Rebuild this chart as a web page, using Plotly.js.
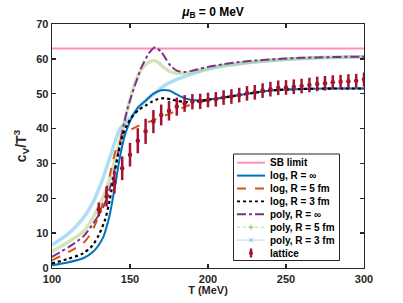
<!DOCTYPE html>
<html>
<head>
<meta charset="utf-8">
<script src="https://cdn.plot.ly/plotly-3.0.1.min.js"></script>
<style>html,body{margin:0;padding:0;background:#fff;}#chart{width:403px;height:303px;}</style>
</head>
<body>
<div id="chart"></div>
<script>
// SB limit
const sbT = [100, 300];
const sbV = [63.0, 63.0];

// log, R = inf
const logInfT = [100,110,120,126,130,133,135,137,139,141,143,145,147,149,151,155,160,165,170,175,180,185,190,195,200,210,220,230,240,250,260,270,280,290,300];
const logInfV = [0.8,1.6,2.8,4.5,6.6,9.0,11.8,15.2,20.0,25.0,30.5,35.0,38.5,41.0,43.0,46.0,48.0,50.0,51.0,50.9,49.8,48.7,48.2,48.1,48.3,48.9,49.6,50.3,50.9,51.2,51.35,51.45,51.5,51.5,51.5];

// log, R = 5 fm
const log5T = [100,111,120,125,130,135,138,141,145,150,155,160,165,170,175,180,185,190,195,200,205,210,220,230,240,250,260,270,280,290,300];
const log5V = [2.2,4.7,7.1,10.0,15.0,22.4,28.5,34.0,37.4,39.5,40.7,41.6,42.4,43.3,44.2,45.2,46.2,47.0,47.6,48.1,48.5,48.9,49.6,50.3,50.9,51.2,51.35,51.45,51.5,51.5,51.5];

// log, R = 3 fm
const log3T = [100,110,120,126,130,134,137,140,142.5,145,148,152,156,160,164,168,172,176,180,185,190,195,200,210,220,230,240,250,260,270,280,290,300];
const log3V = [1.3,2.6,4.2,6.5,9.5,13.8,19.5,27.0,32.9,37.7,41.0,43.8,45.5,46.6,47.7,48.5,48.7,48.4,48.0,47.6,47.6,47.9,48.3,48.9,49.6,50.3,50.9,51.2,51.35,51.45,51.5,51.5,51.5];

// poly, R = inf
const polyInfT = [100,105,111,120,126.5,133,138,141.5,144.5,148,151,154,157.5,162,166,170,173,176,180,185,190,195,200,210,220,230,240,250,260,270,280,290,300];
const polyInfV = [3.2,4.5,6.1,9.0,12.8,17.6,24.3,31.0,38.0,45.0,49.5,53.5,57.7,61.5,63.3,62.0,60.0,58.0,56.6,56.2,56.6,57.2,57.7,58.5,59.1,59.5,59.8,60.1,60.3,60.4,60.5,60.6,60.6];

// poly, R = 5 fm
const poly5T = [100,111,120,126.5,133,138,142.5,147,151,155,158,162,165,168,172,176,180,185,190,195,200,210,220,230,240,250,260,270,280,290,300];
const poly5V = [4.7,7.6,10.4,14.7,20.5,27.2,34.8,43.0,50.0,55.0,57.5,59.0,59.5,59.0,57.4,56.3,55.9,55.9,56.2,56.7,57.2,58.1,58.7,59.2,59.6,59.9,60.1,60.3,60.4,60.5,60.6];

// poly, R = 3 fm
const poly3T = [100,111,120,126.5,133,138,143.5,147,150,155,160,166,170,175,180,185,190,196,200,210,220,230,240,250,260,270,280,290,300];
const poly3V = [6.6,10.0,14.3,19.0,26.2,32.9,40.0,41.5,43.0,45.6,48.0,50.1,51.7,53.1,54.1,54.9,55.7,56.6,57.1,58.0,58.6,59.1,59.5,59.9,60.1,60.3,60.4,60.5,60.6];

// lattice
const latT = [130,135,140,145,150,155,160,165,170,175,180,185,190,195,200,205,210,215,220,225,230,235,240,245,250,255,260,265,270,275,280,285,290,295,300];
const latV = [16.8,20.5,24.6,28.6,32.5,36.5,39.2,42.0,43.9,45.1,46.3,47.2,47.7,47.8,48.2,48.4,48.9,49.2,49.6,50.1,50.4,50.9,51.3,51.7,51.8,52.0,52.2,52.5,52.8,53.0,53.3,53.4,53.6,53.7,54.1];
const latE = [2.0,2.9,3.2,3.4,3.4,3.6,3.6,3.3,3.0,2.8,2.6,2.4,2.2,2.2,2.1,2.1,2.1,2.1,2.1,2.1,2.1,2.1,2.1,2.1,2.1,2.1,2.1,2.1,2.1,2.1,2.0,2.0,2.0,2.0,2.0];

// legend labels
const legendLabels = ['SB limit','log, R = ∞','log, R = 5 fm','log, R = 3 fm','poly, R = ∞','poly, R = 5 fm','poly, R = 3 fm','lattice'];

const FONT = 'Liberation Sans, Arial, sans-serif';
const sp = {shape:'spline', smoothing:0.7};
const C = {sb:'#FF8FC0', blue:'#0072BD', orange:'#D95319', black:'#000000', purple:'#7E2F8E', green:'#9FCC78', lblue:'#7FCDF0', lat:'#A2142F'};

const traces = [
  {x: poly3T, y: poly3V, mode:'lines', line:Object.assign({color:'rgba(120,200,240,0.6)', width:3.5}, sp), hoverinfo:'skip'},
  {x: poly5T, y: poly5V, mode:'lines', line:Object.assign({color:'rgba(170,210,130,0.55)', width:3.5}, sp), hoverinfo:'skip'},
  {x: sbT, y: sbV, mode:'lines', line:{color:C.sb, width:2}},
  {x: polyInfT, y: polyInfV, mode:'lines', line:Object.assign({color:C.purple, width:2, dash:'dashdot'}, sp)},
  {x: log5T, y: log5V, mode:'lines', line:Object.assign({color:C.orange, width:2, dash:'dash'}, sp)},
  {x: logInfT, y: logInfV, mode:'lines', line:Object.assign({color:C.blue, width:2}, sp)},
  {x: log3T, y: log3V, mode:'lines', line:Object.assign({color:C.black, width:2.2, dash:'dot'}, sp)},
  {x: latT, y: latV, mode:'markers', marker:{color:C.lat, size:4.5}, error_y:{type:'data', array:latE, visible:true, color:C.lat, thickness:2.5, width:0}}
];

// ---- custom legend (paper coordinates) ----
const L = 52, R = 364, T = 24, B = 268;
const px = v => (v - L) / (R - L);
const py = v => (B - v) / (B - T);
const rowY = [162.7,175.6,188.5,201.4,214.3,227.2,240.1,253.0];
const shapes = [];
const annotations = [];
shapes.push({type:'rect', xref:'paper', yref:'paper', x0:px(233.5), x1:px(339.5), y0:py(260.5), y1:py(154), line:{color:'#262626', width:1}, fillcolor:'#fff', layer:'above'});
const lineStyles = [
  {color:C.sb, width:2, dash:'solid'},
  {color:C.blue, width:2, dash:'solid'},
  {color:C.orange, width:2, dash:'dash'},
  {color:C.black, width:1.6, dash:'dot'},
  {color:C.purple, width:2, dash:'dashdot'},
  {color:'#B5D98F', width:1, dash:'dot'},
  {color:'#A8DDF5', width:1, dash:'solid'},
  null
];
legendLabels.forEach((lab, i) => {
  const yy = rowY[i];
  if (lineStyles[i]) {
    shapes.push({type:'line', xref:'paper', yref:'paper', x0:px(237), x1:px(265), y0:py(yy), y1:py(yy), line:lineStyles[i], layer:'above'});
  }
  annotations.push({xref:'paper', yref:'paper', x:px(267.5), y:py(yy), xanchor:'left', yanchor:'middle', showarrow:false, text:lab,
    font:{family:FONT, size:10, color:'#000', weight:'bold'}});
});
// '+' marker for poly R = 5 fm
const mx = 251, m5 = rowY[5], m3 = rowY[6];
shapes.push({type:'line', xref:'paper', yref:'paper', x0:px(mx-2.5), x1:px(mx+2.5), y0:py(m5), y1:py(m5), line:{color:'#8CC460', width:1}, layer:'above'});
shapes.push({type:'line', xref:'paper', yref:'paper', x0:px(mx), x1:px(mx), y0:py(m5-2.5), y1:py(m5+2.5), line:{color:'#8CC460', width:1}, layer:'above'});
// 'x' marker for poly R = 3 fm
shapes.push({type:'line', xref:'paper', yref:'paper', x0:px(mx-2), x1:px(mx+2), y0:py(m3-2), y1:py(m3+2), line:{color:'#6CC6EE', width:1}, layer:'above'});
shapes.push({type:'line', xref:'paper', yref:'paper', x0:px(mx-2), x1:px(mx+2), y0:py(m3+2), y1:py(m3-2), line:{color:'#6CC6EE', width:1}, layer:'above'});
// lattice marker with error bar
const ml = rowY[7];
shapes.push({type:'line', xref:'paper', yref:'paper', x0:px(mx), x1:px(mx), y0:py(ml-4.5), y1:py(ml+4.5), line:{color:C.lat, width:2.5}, layer:'above'});
shapes.push({type:'circle', xref:'paper', yref:'paper', x0:px(mx-2), x1:px(mx+2), y0:py(ml+2), y1:py(ml-2), line:{color:C.lat, width:0}, fillcolor:C.lat, layer:'above'});

const axisCommon = {
  showgrid:false, zeroline:false, showline:true, mirror:'ticks', linecolor:'#262626', linewidth:1.3,
  ticks:'inside', ticklen:4, tickcolor:'#262626', tickwidth:1.3,
  tickfont:{family:FONT, size:11, color:'#262626', weight:'bold'}
};

const layout = {
  width:403, height:303,
  margin:{l:52, r:39, t:24, b:35},
  paper_bgcolor:'#fff', plot_bgcolor:'#fff',
  showlegend:false,
  title:{text:'<i>μ</i><sub>B</sub> = 0 MeV', font:{family:FONT, size:12, color:'#000', weight:'bold'}, x:0.516, xanchor:'center', y:0.962, yanchor:'middle', xref:'paper'},
  xaxis:Object.assign({}, axisCommon, {range:[100,300], tickvals:[100,150,200,250,300], title:{text:'T (MeV)', font:{family:FONT, size:11, color:'#262626', weight:'bold'}, standoff:1}}),
  yaxis:Object.assign({}, axisCommon, {range:[0,70], tickvals:[0,10,20,30,40,50,60,70], title:{text:'c<sub>V</sub>/T<sup>3</sup>', font:{family:FONT, size:14, color:'#262626', weight:'bold'}, standoff:6}}),
  shapes:shapes,
  annotations:annotations
};

Plotly.newPlot('chart', traces, layout, {displayModeBar:false, staticPlot:true});
</script>
</body>
</html>
